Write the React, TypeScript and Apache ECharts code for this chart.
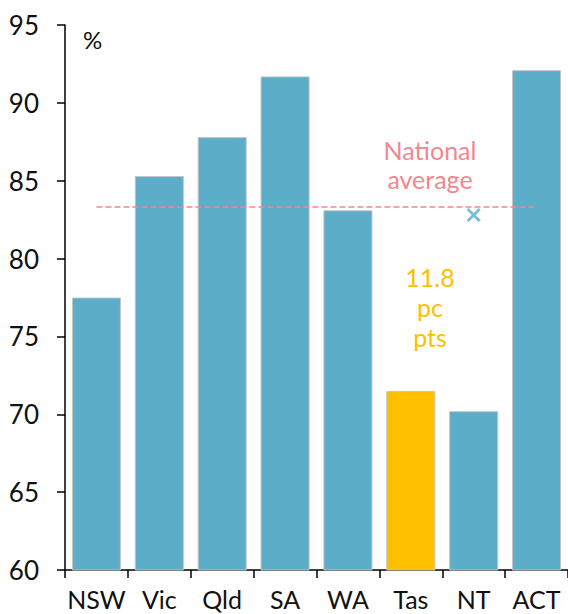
import React, { useEffect, useRef } from "react";
import * as echarts from "echarts";

const categories = ["NSW", "Vic", "Qld", "SA", "WA", "Tas", "NT", "ACT"];
const shares = [77.5, 85.3, 87.8, 91.7, 83.1, 71.5, 70.2, 92.1];
const highlightState = "Tas";
const nationalAverage = 83.3;
const crossState = "NT";
const crossValue = 82.8;
const yTicks = { min: 60, max: 95, interval: 5 };

const BLUE = "#5badc8";
const GOLD = "#ffc000";
const PINK = "#f4868f";
const FONT = "Lato";

export default function App() {
  const ref = useRef<HTMLDivElement>(null);
  useEffect(() => {
    if (!ref.current) return;
    const chart = echarts.init(ref.current, undefined, { renderer: "svg" });
    chart.setOption({
      animation: false,
      textStyle: { fontFamily: FONT },
      grid: { left: 65, right: 0, top: 25, bottom: 44, containLabel: false },
      xAxis: {
        type: "category",
        data: categories,
        axisLine: { lineStyle: { color: "#000", width: 1.5 } },
        axisTick: { show: true, length: 8, lineStyle: { color: "#000", width: 1.5 } },
        axisLabel: {
          color: "#111",
          fontSize: 25,
          lineHeight: 24,
          margin: 17,
          fontFamily: FONT,
          interval: 0,
        },
      },
      yAxis: {
        type: "value",
        min: yTicks.min,
        max: yTicks.max,
        interval: yTicks.interval,
        splitLine: { show: false },
        axisLine: { show: true, lineStyle: { color: "#000", width: 1.5 } },
        axisTick: { show: true, length: 8, lineStyle: { color: "#000", width: 1.5 } },
        axisLabel: { color: "#111", fontSize: 26, margin: 26, fontFamily: FONT },
      },
      series: [
        {
          type: "bar",
          barCategoryGap: "22%",
          data: shares.map((v, i) => ({
            value: v,
            itemStyle: {
              color: categories[i] === highlightState ? GOLD : BLUE,
              borderColor: "#c4c4c4",
              borderWidth: 1,
            },
          })),
          markLine: {
            silent: true,
            symbol: "none",
            label: { show: false },
            lineStyle: { color: PINK, type: [6, 3], width: 1.5 },
            data: [
              [
                { coord: [categories[0], nationalAverage] },
                { coord: [categories[categories.length - 1], nationalAverage] },
              ],
            ],
          },
        },
        {
          type: "scatter",
          data: [[crossState, crossValue]],
          symbol:
            "path://M0,2 L2,0 L7,5 L12,0 L14,2 L9,7 L14,12 L12,14 L7,9 L2,14 L0,12 L5,7 Z",
          symbolSize: 14,
          itemStyle: { color: BLUE },
          z: 5,
        },
      ],
      graphic: [
        {
          type: "text",
          left: 83,
          top: 27,
          style: { text: "%", fontSize: 24, fill: "#111", fontFamily: FONT },
        },
        {
          type: "text",
          x: 430,
          y: 164,
          style: {
            text: "National\naverage",
            fontSize: 25,
            lineHeight: 29,
            fill: PINK,
            fontFamily: FONT,
            align: "center",
            verticalAlign: "middle",
          },
        },
        {
          type: "text",
          x: 430,
          y: 307,
          style: {
            text: "11.8\npc\npts",
            fontSize: 25,
            lineHeight: 30,
            fill: GOLD,
            fontFamily: FONT,
            align: "center",
            verticalAlign: "middle",
          },
        },
      ],
    });
    return () => chart.dispose();
  }, []);
  return (
    <div
      ref={ref}
      style={{ position: "fixed", left: 0, top: 0, width: 568, height: 614, background: "#fff" }}
    />
  );
}
